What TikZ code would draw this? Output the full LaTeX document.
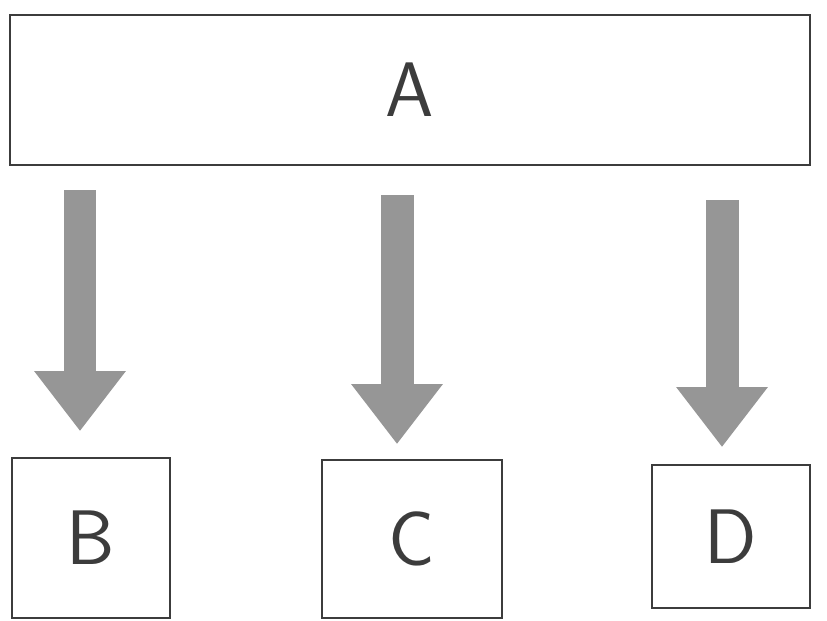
\documentclass[tikz,border=0pt]{standalone}
\usepackage{xcolor}
\definecolor{pencil}{RGB}{60,60,60}
\definecolor{shade}{RGB}{150,150,150}
\usetikzlibrary{arrows.meta, positioning, calc}

\begin{document}
\begin{tikzpicture}[x=0.02cm, y=-0.02cm,
  box/.style={rectangle, draw=pencil, line width=1pt, inner sep=0pt,
              font=\sffamily\fontsize{44}{44}\selectfont, text=pencil},
  arr/.style={draw=shade, line width=0.66cm,
              -{Triangle[length=1.2cm, width=1.75cm]}}
]
\useasboundingbox (0,0) rectangle (827,620);

% Top box
\node[box, minimum width=16cm, minimum height=3cm] (A) at (410,90) {A};

% Bottom boxes
\node[box, minimum width=3.16cm, minimum height=3.2cm] (B) at (91,538) {B};
\node[box, minimum width=3.6cm, minimum height=3.16cm] (C) at (412,539) {C};
\node[box, minimum width=3.16cm, minimum height=2.86cm] (D) at (731,536.5) {D};

% Arrow starts
\coordinate (sB) at (80,190);
\coordinate (sC) at (397,195);
\coordinate (sD) at (722,200);

\draw[arr, shorten >=0.52cm] (sB) -- (sB |- B.north);
\draw[arr, shorten >=0.3cm] (sC) -- (sC |- C.north);
\draw[arr, shorten >=0.34cm] (sD) -- (sD |- D.north);
\end{tikzpicture}
\end{document}
